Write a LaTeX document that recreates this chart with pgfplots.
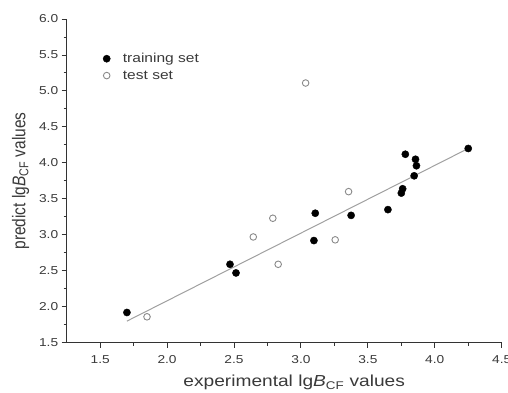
\documentclass[border=0pt]{standalone}
\usepackage{pgfplots}
\pgfplotsset{compat=1.18}
\usepackage{fontspec}
\setmainfont[FakeStretch=1.2]{Liberation Sans}
\newfontfamily\ylabfont[FakeStretch=0.84]{Liberation Sans}
\definecolor{axgray}{HTML}{333333}
\definecolor{lblgray}{HTML}{3A3A3A}
\definecolor{opengray}{HTML}{8A8A8A}
\definecolor{linegray}{HTML}{A0A0A0}
\begin{document}
\begin{tikzpicture}
\begin{axis}[
  scale only axis,
  width=435bp, height=323.7bp,
  xmin=1.25, xmax=4.5, ymin=1.5, ymax=6.0,
  axis lines=left,
  axis line style={color=axgray, line width=0.9bp, -},
  xtick={1.5,2.0,...,4.5},
  ytick={1.5,2.0,...,6.0},
  minor tick num=1,
  tick align=outside,
  major tick length=5bp, minor tick length=3bp,
  tick style={color=axgray, line width=0.9bp},
  /pgf/number format/assume math mode=true,
  /pgf/number format/fixed, /pgf/number format/fixed zerofill,
  /pgf/number format/precision=1,
  ticklabel style={font=\fontsize{11.5}{13}\selectfont, color=lblgray},
  xticklabel style={yshift=-4bp},
  xlabel={experimental lg\textit{B}\textsubscript{CF} values},
  ylabel={\ylabfont predict lg\textit{B}\textsubscript{CF} values},
  xlabel style={font=\fontsize{16}{18}\selectfont, color=lblgray, yshift=-5bp, xshift=10bp},
  ylabel style={font=\fontsize{18.5}{20}\selectfont, color=lblgray, yshift=3bp},
  legend image code/.code={\path (0bp,0bp) (18bp,0bp); \draw[#1] plot coordinates {(4bp,0bp)};},
  legend style={at={(0.075,0.907)}, anchor=north west, draw=none, fill=none,
    font=\fontsize{13}{15}\selectfont, text=lblgray, row sep=2.5bp},
  legend cell align=left,
  clip=false,
]
\addplot[draw=linegray, line width=1bp, forget plot] coordinates {(1.70,1.80) (4.25,4.20)};
\addplot[only marks, mark=*, mark size=3.6bp, mark options={fill=black, draw=black}] coordinates {
(1.70,1.92) (2.47,2.59) (2.515,2.47) (3.107,3.30) (3.097,2.92) (3.375,3.27)
(3.65,3.35) (3.78,4.12) (3.856,4.05) (3.863,3.96) (3.846,3.82) (3.76,3.64)
(3.75,3.58) (4.25,4.20)};
\addlegendentry{training set}
\addplot[only marks, mark=o, mark size=3.3bp, mark options={draw=opengray, fill=white, line width=0.9bp}] coordinates {
(1.85,1.86) (2.644,2.97) (2.79,3.23) (2.83,2.59) (3.256,2.93) (3.356,3.60) (3.035,5.11)};
\addlegendentry{test set}
\coordinate (sw) at (rel axis cs:0,0);
\coordinate (ne) at (rel axis cs:1,1);
\end{axis}
\pgfresetboundingbox
\path[use as bounding box] ([xshift=-66.7bp,yshift=-50.3bp]sw) rectangle ([xshift=6.3bp,yshift=19bp]ne);
\end{tikzpicture}
\end{document}
